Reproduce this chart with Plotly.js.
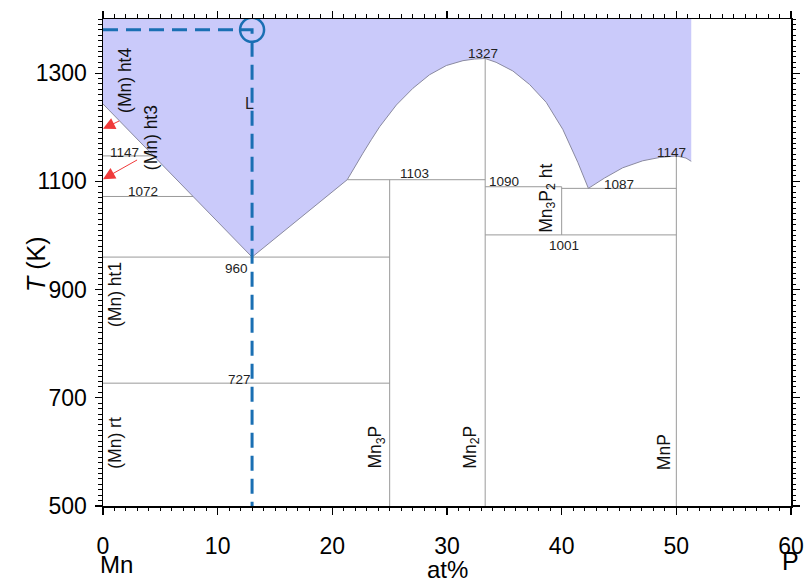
<!DOCTYPE html>
<html>
<head>
<meta charset="utf-8">
<script src="https://cdn.plot.ly/plotly-3.0.1.min.js"></script>
<style>
  html, body { margin: 0; padding: 0; background: #fff; }
  #chart { width: 805px; height: 580px; }
</style>
</head>
<body>
<div id="chart"></div>
<script>
// Mn–P phase diagram, Mn-rich side (0–60 at% P)

// Liquidus (at% P, temperature in K)
const liqX = [0, 13, 21.3, 21.95, 22.67, 23.4, 24.13, 25.58, 27.03, 28.48, 29.94, 31.39, 32.4, 33.33, 34.28, 35.74, 37.2, 38.65, 40.1, 41.41, 42.33, 43.73, 45.32, 47.07, 48.52, 50, 50.84, 51.3];
const liqT = [1243, 960, 1103, 1127, 1152, 1177, 1201, 1241, 1272, 1297, 1314, 1323, 1326, 1327, 1320, 1304, 1279, 1246, 1196, 1135, 1087, 1106, 1125, 1138, 1144, 1147, 1143, 1137];
const liqTop = 1400;

// Horizontal invariant lines: temperature, start and end composition
const isoT  = [1147, 1072, 960, 727, 1103, 1090, 1087, 1001];
const isoX0 = [0, 0, 0, 0, 21.3, 33.33, 40, 33.33];
const isoX1 = [4.41, 7.85, 25, 25, 33.33, 40, 50, 50];

// Compound lines: composition, lower and upper temperature
const compX  = [25, 33.33, 40, 50];
const compT0 = [500, 500, 1001, 500];
const compT1 = [1103, 1327, 1090, 1147];

// Temperature labels
const tempText = ['1327', '1103', '1090', '1087', '1147', '1001', '1147', '1072', '960', '727'];
const tempX    = [33.1, 27.2, 35.0, 45.0, 49.6, 40.2, 1.9, 3.5, 11.6, 11.9];
const tempY    = [1337, 1115, 1100, 1095, 1154, 981, 1154, 1082, 938, 733];

// Phase labels (drawn vertically)
const phaseText = ['(Mn) ht4', '(Mn) ht3', '(Mn) ht1', '(Mn) rt', 'Mn<sub>3</sub>P', 'Mn<sub>2</sub>P', 'MnP', 'Mn<sub>3</sub>P<sub>2</sub> ht'];
const phaseX    = [1.9, 4.2, 1.05, 1.05, 23.9, 32.1, 48.95, 38.7];
const phaseY    = [1287, 1180, 890, 617, 608, 608, 600, 1069];

// Allotropic transitions of Mn marked on the temperature axis
const arrowT     = [1197, 1104];
const arrowTailX = [1.55, 3.1];
const arrowTailT = [1213, 1141];

// Selected composition / temperature
const selX = 13;
const selT = 1380;

const xTicks = [0, 10, 20, 30, 40, 50, 60];
const yTicks = [500, 700, 900, 1100, 1300];

const grey = '#9a9a9a';
const blue = '#1a6fb3';
const font = 'Liberation Sans, Arial, sans-serif';

// Build line segments separated by nulls
const segX = [], segY = [];
isoT.forEach((t, i) => { segX.push(isoX0[i], isoX1[i], null); segY.push(t, t, null); });
compX.forEach((x, i) => { segX.push(x, x, null); segY.push(compT0[i], compT1[i], null); });

const fillX = liqX.concat([liqX[liqX.length - 1], 0]);
const fillY = liqT.concat([liqTop, liqTop]);

const traces = [
  { x: fillX, y: fillY, type: 'scatter', mode: 'lines', fill: 'toself',
    fillcolor: '#cacafa', line: { width: 0 }, hoverinfo: 'skip' },
  { x: segX, y: segY, type: 'scatter', mode: 'lines',
    line: { color: grey, width: 1 }, hoverinfo: 'skip' },
  { x: liqX, y: liqT, type: 'scatter', mode: 'lines',
    line: { color: '#8a8aa0', width: 1 }, hoverinfo: 'skip' },
  { x: [0, selX, selX], y: [selT, selT, 500], type: 'scatter', mode: 'lines',
    line: { color: blue, width: 3, dash: '15px,8px' }, hoverinfo: 'skip' },
  { x: [selX], y: [selT], type: 'scatter', mode: 'markers',
    marker: { symbol: 'circle-open', size: 24, color: blue, line: { width: 2.5, color: blue } },
    hoverinfo: 'skip' }
];

const annotations = [];
tempText.forEach((t, i) => annotations.push({
  x: tempX[i], y: tempY[i], xref: 'x', yref: 'y', text: t, showarrow: false,
  font: { family: font, size: 13.5, color: '#222' }
}));
phaseText.forEach((t, i) => annotations.push({
  x: phaseX[i], y: phaseY[i], xref: 'x', yref: 'y', text: t, showarrow: false,
  textangle: -90, font: { family: font, size: 17.5, color: '#111' }
}));
arrowT.forEach((t, i) => annotations.push({
  x: 0, y: t, xref: 'x', yref: 'y', ax: arrowTailX[i], ay: arrowTailT[i],
  axref: 'x', ayref: 'y', text: '', showarrow: true,
  arrowhead: 2, arrowsize: 2.4, arrowwidth: 1, arrowcolor: '#f03a3a'
}));
// Liquid field label
annotations.push({
  x: 12.8, y: 1243, xref: 'x', yref: 'y', text: 'L', showarrow: false,
  font: { family: font, size: 16, color: '#222' }
});
// Component labels under the composition axis
annotations.push({
  x: 0, y: 0, xref: 'paper', yref: 'paper', text: 'Mn', showarrow: false,
  xanchor: 'left', yanchor: 'middle', xshift: -5, yshift: -58,
  font: { family: font, size: 24, color: '#000' }
});
annotations.push({
  x: 1, y: 0, xref: 'paper', yref: 'paper', text: 'P', showarrow: false,
  xanchor: 'center', yanchor: 'middle', xshift: -1, yshift: -55,
  font: { family: font, size: 25, color: '#000' }
});
// Axis titles
annotations.push({
  x: 0.5, y: 0, xref: 'paper', yref: 'paper', text: 'at%', showarrow: false,
  xanchor: 'center', yanchor: 'middle', yshift: -63,
  font: { family: font, size: 24, color: '#000' }
});
annotations.push({
  x: 0, y: 0.497, xref: 'paper', yref: 'paper', text: '<i>T</i> (K)', showarrow: false,
  textangle: -90, xanchor: 'center', yanchor: 'middle', xshift: -67,
  font: { family: font, size: 25, color: '#000' }
});

const axisCommon = {
  showgrid: false, zeroline: false, showline: true, linecolor: '#000', linewidth: 1.5,
  mirror: 'allticks', ticks: 'outside', ticklen: 7, tickwidth: 1.2, tickcolor: '#000',
  tickfont: { family: font, size: 23, color: '#000' }
};

const layout = {
  width: 805, height: 580,
  margin: { l: 103, r: 14, t: 19, b: 74 },
  paper_bgcolor: '#fff', plot_bgcolor: '#fff',
  showlegend: false,
  xaxis: Object.assign({}, axisCommon, {
    range: [0, 60], tickvals: xTicks, ticktext: xTicks.map(String),
    ticklabelstandoff: 12,
    minor: { dtick: 1, ticks: 'outside', ticklen: 3.5, tickwidth: 1, tickcolor: '#000', showgrid: false }
  }),
  yaxis: Object.assign({}, axisCommon, {
    range: [500, 1400], tickvals: yTicks, ticktext: yTicks.map(String),
    ticklabelstandoff: 3,
    minor: { dtick: 10, ticks: 'outside', ticklen: 3.5, tickwidth: 1, tickcolor: '#000', showgrid: false }
  }),
  annotations: annotations
};

Plotly.newPlot('chart', traces, layout, { displayModeBar: false, staticPlot: true });
</script>
</body>
</html>
